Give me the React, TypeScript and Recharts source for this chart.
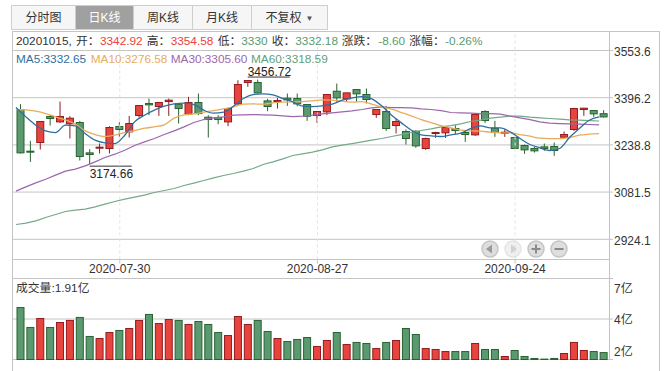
import React from 'react';
import { ComposedChart, Bar, Line, XAxis, YAxis, CartesianGrid, ReferenceLine } from 'recharts';

const dates = [
  '2020-07-16', '2020-07-17', '2020-07-20', '2020-07-21', '2020-07-22', '2020-07-23', '2020-07-24', '2020-07-27', '2020-07-28', '2020-07-29',
  '2020-07-30', '2020-07-31', '2020-08-03', '2020-08-04', '2020-08-05', '2020-08-06', '2020-08-07', '2020-08-10', '2020-08-11', '2020-08-12',
  '2020-08-13', '2020-08-14', '2020-08-17', '2020-08-18', '2020-08-19', '2020-08-20', '2020-08-21', '2020-08-24', '2020-08-25', '2020-08-26',
  '2020-08-27', '2020-08-28', '2020-08-31', '2020-09-01', '2020-09-02', '2020-09-03', '2020-09-04', '2020-09-07', '2020-09-08', '2020-09-09',
  '2020-09-10', '2020-09-11', '2020-09-14', '2020-09-15', '2020-09-16', '2020-09-17', '2020-09-18', '2020-09-21', '2020-09-22', '2020-09-23',
  '2020-09-24', '2020-09-25', '2020-09-28', '2020-09-29', '2020-09-30', '2020-10-09', '2020-10-12', '2020-10-13', '2020-10-14', '2020-10-15',
];

const opens = [
  3356.8, 3217.9, 3246.8, 3333.4, 3315.6, 3309.0, 3313.4, 3212.3, 3229.0, 3226.8,
  3300.1, 3282.3, 3336.8, 3376.8, 3366.8, 3383.4, 3374.5, 3342.3, 3380.1, 3331.2,
  3330.1, 3315.6, 3375.6, 3446.8, 3446.8, 3385.6, 3384.5, 3394.5, 3393.4, 3373.4,
  3336.8, 3349.0, 3417.9, 3392.3, 3423.4, 3406.8, 3340.1, 3350.1, 3303.4, 3283.4,
  3284.5, 3226.8, 3277.9, 3279.0, 3293.4, 3280.1, 3272.3, 3350.1, 3294.5, 3279.0,
  3263.4, 3236.8, 3226.8, 3232.3, 3233.4, 3264.5, 3290.1, 3356.8, 3353.4, 3342.92,
];
const closes = [
  3212.3, 3215.6, 3316.8, 3326.8, 3333.4, 3327.9, 3200.1, 3206.8, 3231.2, 3296.8,
  3290.1, 3310.1, 3370.1, 3372.3, 3380.1, 3387.9, 3360.1, 3380.1, 3343.4, 3323.4,
  3323.4, 3360.1, 3440.1, 3453.4, 3412.3, 3366.8, 3386.8, 3389.0, 3375.6, 3334.5,
  3350.1, 3406.8, 3395.6, 3412.3, 3409.0, 3390.1, 3356.8, 3293.4, 3316.8, 3260.1,
  3235.6, 3260.1, 3280.1, 3296.8, 3286.8, 3273.4, 3340.1, 3320.1, 3280.1, 3281.2,
  3226.8, 3222.3, 3219.0, 3226.8, 3220.1, 3273.4, 3360.1, 3361.2, 3342.3, 3332.18,
];
const highs = [
  3374.5, 3252.3, 3317.9, 3337.9, 3383.4, 3334.5, 3319.0, 3224.5, 3243.4, 3301.2,
  3314.5, 3335.6, 3370.1, 3393.4, 3382.3, 3393.4, 3376.8, 3399.0, 3410.1, 3337.9,
  3337.9, 3363.4, 3454.5, 3454.5, 3456.72, 3392.3, 3395.6, 3410.1, 3410.1, 3375.6,
  3352.3, 3406.8, 3443.4, 3412.3, 3423.4, 3426.8, 3357.9, 3367.9, 3326.8, 3290.1,
  3287.9, 3263.4, 3282.3, 3301.2, 3304.5, 3285.6, 3341.2, 3354.5, 3319.0, 3291.2,
  3265.7, 3240.1, 3232.3, 3243.4, 3246.8, 3283.4, 3362.3, 3362.3, 3353.4, 3354.58,
];
const lows = [
  3210.1, 3182.3, 3223.4, 3303.4, 3312.3, 3260.1, 3186.8, 3174.66, 3210.1, 3210.1,
  3265.7, 3263.4, 3330.1, 3337.9, 3335.6, 3335.6, 3310.1, 3337.9, 3337.9, 3263.4,
  3307.9, 3301.2, 3370.1, 3432.3, 3410.1, 3351.2, 3360.1, 3369.0, 3367.9, 3319.0,
  3312.3, 3337.9, 3382.3, 3382.3, 3382.3, 3376.8, 3329.0, 3285.6, 3276.8, 3240.1,
  3229.0, 3222.3, 3262.3, 3262.3, 3274.5, 3249.0, 3269.0, 3312.3, 3265.7, 3265.7,
  3225.7, 3209.0, 3213.4, 3219.0, 3202.3, 3260.1, 3285.6, 3335.6, 3332.3, 3330,
];

const ma5 = [
  3363.4, 3332.3, 3304.5, 3285.6, 3280.1, 3304.5, 3302.3, 3276.8, 3254.5, 3245.6,
  3243.4, 3271.2, 3315.6, 3337.9, 3354.5, 3367.9, 3375.6, 3377.9, 3373.4, 3354.5,
  3344.5, 3347.9, 3367.9, 3393.4, 3406.8, 3409.0, 3405.6, 3393.4, 3382.3, 3367.9,
  3366.8, 3369.0, 3374.5, 3387.9, 3395.6, 3400.1, 3392.3, 3369.0, 3337.9, 3312.3,
  3287.9, 3272.3, 3269.0, 3266.8, 3272.3, 3277.9, 3293.4, 3302.3, 3295.6, 3295.6,
  3282.3, 3260.1, 3240.1, 3229.0, 3220.1, 3226.8, 3263.4, 3293.4, 3321.2, 3332.65,
];
const ma10 = [
  3356.8, 3355.7, 3351.2, 3343.4, 3332.3, 3322.3, 3307.9, 3285.6, 3273.4, 3266.8,
  3271.2, 3280.1, 3286.8, 3294.5, 3299.0, 3305.7, 3327.9, 3339.0, 3342.3, 3347.9,
  3353.4, 3359.0, 3365.7, 3374.5, 3375.6, 3374.5, 3379.0, 3381.2, 3382.3, 3383.4,
  3385.6, 3389.0, 3387.9, 3384.5, 3381.2, 3383.4, 3374.5, 3364.5, 3357.9, 3346.8,
  3335.6, 3323.4, 3313.4, 3303.4, 3295.6, 3287.9, 3285.6, 3284.5, 3281.2, 3279.0,
  3279.0, 3273.4, 3267.9, 3261.2, 3260.1, 3260.1, 3263.4, 3271.2, 3274.5, 3276.58,
];
const ma30 = [
  3084.6, 3099.0, 3112.3, 3124.5, 3137.9, 3151.2, 3157.9, 3169.0, 3182.3, 3196.8,
  3207.9, 3221.2, 3236.8, 3249.0, 3260.1, 3273.4, 3285.6, 3299.0, 3313.4, 3323.4,
  3329.0, 3332.3, 3337.9, 3339.0, 3340.1, 3339.0, 3337.9, 3335.6, 3333.4, 3334.5,
  3337.9, 3342.3, 3345.6, 3349.0, 3352.3, 3356.8, 3362.3, 3365.7, 3363.4, 3363.4,
  3362.3, 3359.0, 3356.8, 3353.4, 3346.8, 3345.7, 3344.5, 3343.4, 3343.4, 3341.2,
  3334.5, 3329.0, 3323.4, 3315.6, 3311.2, 3310.1, 3309.0, 3307.9, 3306.8, 3305.6,
];
const ma60 = [
  2973.5, 2977.9, 2985.7, 2996.8, 3006.8, 3016.8, 3021.2, 3024.5, 3032.3, 3041.2,
  3050.1, 3057.9, 3064.5, 3071.2, 3080.1, 3086.8, 3093.4, 3103.4, 3111.2, 3120.1,
  3129.0, 3136.8, 3143.4, 3151.2, 3160.1, 3173.4, 3182.3, 3192.3, 3203.4, 3209.0,
  3214.5, 3222.3, 3232.3, 3237.9, 3243.4, 3249.0, 3254.5, 3260.1, 3266.8, 3273.4,
  3280.1, 3286.8, 3292.3, 3299.0, 3303.4, 3309.0, 3316.8, 3321.2, 3327.9, 3331.2,
  3334.5, 3334.5, 3331.2, 3329.0, 3326.8, 3324.5, 3322.3, 3321.2, 3320.1, 3318.59,
];

// 亿
const volumes = [
  5.37, 3.84, 4.53, 3.84, 4.22, 4.38, 4.61, 3.15, 2.99, 3.45,
  3.61, 3.76, 4.38, 4.84, 4.14, 4.45, 4.38, 4.07, 4.30, 4.07,
  3.45, 3.22, 4.68, 4.07, 4.38, 3.53, 2.99, 2.76, 2.92, 3.07,
  2.38, 2.84, 3.45, 2.53, 2.69, 2.61, 2.22, 2.69, 2.84, 3.76,
  3.30, 2.22, 2.15, 1.99, 1.99, 1.99, 2.61, 2.15, 2.15, 1.61,
  2.07, 1.61, 1.46, 1.41, 1.46, 1.84, 2.69, 2.07, 1.99, 1.91,
];

const dateTicks = ['2020-07-30', '2020-08-27', '2020-09-24'];
const priceTicks = [2924.1, 3081.5, 3238.8, 3396.2, 3553.6];
const priceDomain = [2856.75, 3616.95];
const volumeTicks = [1.38, 4.49, 7.6];
const volumeTickLabels = ['2亿', '4亿', '7亿'];
const tabs = ['分时图', '日K线', '周K线', '月K线', '不复权'];

const RED = '#E6443C';
const RED_DARK = '#931A1E';
const GREEN = '#5B9A70';
const GREEN_DARK = '#27632F';
const GRID = '#C4C4C4';
const FONT = '"Liberation Sans","Noto Sans CJK SC",sans-serif';

const chartData = dates.map((date, i) => ({
  date,
  open: opens[i],
  close: closes[i],
  high: highs[i],
  low: lows[i],
  ma5: ma5[i],
  ma10: ma10[i],
  ma30: ma30[i],
  ma60: ma60[i],
  volume: volumes[i],
}));

const maxHigh = Math.max(...highs);
const minLow = Math.min(...lows);

const Candle = (props: any) => {
  const { x, y, width, height, payload } = props;
  const top = Math.min(y, y + height);
  const k = Math.abs(height) / (payload.high - payload.low);
  const up = payload.close >= payload.open;
  const bodyTop = top + (payload.high - Math.max(payload.open, payload.close)) * k;
  const bodyH = Math.max(Math.abs(payload.open - payload.close) * k, 1);
  const mid = x + width / 2;
  const bottom = top + Math.abs(height);
  return (
    <g>
      <line x1={mid} x2={mid} y1={top} y2={bottom} stroke={up ? RED_DARK : GREEN_DARK} />
      <rect x={x} y={bodyTop} width={width} height={bodyH} fill={up ? RED : GREEN} stroke={up ? RED_DARK : GREEN_DARK} />
      {payload.high === maxHigh && (
        <g>
          <text x={mid - 10} y={top - 4} fontSize={12} fill="#222" fontFamily={FONT}>{payload.high}</text>
          <line x1={mid - 10} x2={mid + 32} y1={top - 2.5} y2={top - 2.5} stroke="#333" />
        </g>
      )}
      {payload.low === minLow && (
        <g>
          <text x={mid} y={bottom + 14} fontSize={12} fill="#222" fontFamily={FONT}>{payload.low}</text>
          <line x1={mid} x2={mid + 42} y1={bottom + 2} y2={bottom + 2} stroke="#333" />
        </g>
      )}
    </g>
  );
};

const VolumeBar = (props: any) => {
  const { x, y, width, height, payload } = props;
  const up = payload.close >= payload.open;
  return <rect x={x} y={y} width={width} height={height} fill={up ? RED : GREEN} stroke={up ? RED_DARK : GREEN_DARK} />;
};

const VolumeTick = (props: any) => {
  const { x, y, index } = props;
  const dy = [-4, 5, 14][index];
  return <text x={x} y={y + dy} fontSize={12} fill="#333" fontFamily={FONT}>{volumeTickLabels[index]}</text>;
};

const NavButton = ({ cx, faded, children }: any) => (
  <g opacity={faded ? 0.45 : 1}>
    <circle cx={cx} cy={249} r={8} fill="#DEDEDE" stroke="#C4C4C4" strokeWidth={1.5} />
    {children}
  </g>
);

const span = (left: number, top: number, text: string, color = '#333') => (
  <span key={text + left} style={{ position: 'absolute', left, top, color, whiteSpace: 'nowrap', fontSize: 11.8, lineHeight: '14px' }}>
    {text}
  </span>
);

export default function App() {
  return (
    <div style={{ position: 'absolute', left: 0, top: 0, width: 669, height: 371, background: '#fff', overflow: 'hidden', fontFamily: FONT }}>
      {/* tabs */}
      <div style={{ position: 'absolute', left: 11, top: 5, height: 25, display: 'flex', width: 317 }}>
        {tabs.map((t, i) => (
          <div
            key={t}
            style={{
              width: [65, 58, 59, 59, 76][i],
              boxSizing: 'border-box',
              height: 25,
              lineHeight: '24px',
              textAlign: 'center',
              fontSize: 12,
              color: i === 1 ? '#fff' : '#333',
              background: i === 1 ? '#A0A0A0' : '#F6F6F6',
              border: '1px solid #CFCFCF',
              borderLeft: i === 0 ? '1px solid #CFCFCF' : 'none',
            }}
          >
            {t}
            {i === 4 && <span style={{ fontSize: 8, color: '#555', marginLeft: 4, verticalAlign: 1 }}>▼</span>}
          </div>
        ))}
      </div>

      {/* frame */}
      <div style={{ position: 'absolute', left: 12, top: 31, width: 648, height: 340, borderTop: `1px solid ${GRID}`, borderLeft: `1px solid ${GRID}`, borderRight: `1px solid ${GRID}`, boxSizing: 'border-box' }} />
      <div style={{ position: 'absolute', left: 609, top: 31, width: 1, height: 328, background: GRID }} />

      {/* price chart */}
      <div style={{ position: 'absolute', left: 0, top: 0 }}>
        <ComposedChart width={669} height={278.5} data={chartData} margin={{ top: 31.5, right: 9, left: 12.5, bottom: 0 }} barSize={7}>
          <CartesianGrid vertical={false} stroke={GRID} />
          <XAxis
            xAxisId="band"
            dataKey="date"
            scale="band"
            ticks={dateTicks}
            interval={0}
            padding={{ left: 3.5, right: 0 }}
            height={19}
            stroke={GRID}
            tickSize={4}
            tickMargin={1}
            tick={{ fontSize: 12, fill: '#333', fontFamily: FONT }}
          />
          <XAxis xAxisId="line" dataKey="date" scale="point" padding={{ left: 3.5, right: 9.88 }} hide />
          <YAxis
            orientation="right"
            width={51}
            domain={priceDomain}
            ticks={priceTicks}
            interval={0}
            axisLine={false}
            stroke={GRID}
            tickSize={4}
            tickMargin={1}
            tick={{ fontSize: 12, fill: '#333', fontFamily: FONT, dy: 1 }}
          />
          {dateTicks.map((d) => (
            <ReferenceLine key={d} x={d} xAxisId="band" stroke="#E2E2E2" strokeDasharray="3 3" />
          ))}
          <Bar xAxisId="band" dataKey={(d: any) => [d.low, d.high]} shape={<Candle />} isAnimationActive={false} />
          <Line xAxisId="line" dataKey="ma60" stroke="#72AA88" strokeWidth={1.2} dot={false} isAnimationActive={false} />
          <Line xAxisId="line" dataKey="ma30" stroke="#9C66AC" strokeWidth={1.2} dot={false} isAnimationActive={false} />
          <Line xAxisId="line" dataKey="ma10" type="monotone" stroke="#E8AC5C" strokeWidth={1.3} dot={false} isAnimationActive={false} />
          <Line xAxisId="line" dataKey="ma5" type="monotone" stroke="#2F6F9F" strokeWidth={1.3} dot={false} isAnimationActive={false} />
        </ComposedChart>
      </div>

      {/* volume chart */}
      <div style={{ position: 'absolute', left: 0, top: 278 }}>
        <ComposedChart width={669} height={82} data={chartData} margin={{ top: 0.5, right: 9, left: 12.5, bottom: 0.5 }} barSize={7}>
          <CartesianGrid vertical={false} stroke={GRID} />
          <XAxis dataKey="date" scale="band" padding={{ left: 3.5, right: 0 }} hide />
          <YAxis
            orientation="right"
            width={51}
            domain={[volumeTicks[0], volumeTicks[2]]}
            ticks={volumeTicks}
            interval={0}
            axisLine={false}
            stroke={GRID}
            tickSize={4}
            tickMargin={1}
            tick={<VolumeTick />}
          />
          <Bar dataKey="volume" shape={<VolumeBar />} isAnimationActive={false} />
        </ComposedChart>
      </div>

      {/* header rows */}
      <div style={{ position: 'absolute', left: 0, top: 0 }}>
        {span(16, 34, '20201015,')}
        {span(76, 34, '开：')}
        {span(100, 34, '3342.92', RED)}
        {span(146.7, 34, '高：')}
        {span(170.7, 34, '3354.58', RED)}
        {span(217.7, 34, '低：')}
        {span(241.3, 34, '3330', GREEN)}
        {span(271.7, 34, '收：')}
        {span(295.3, 34, '3332.18', GREEN)}
        {span(341.7, 34, '涨跌：')}
        {span(378.3, 34, '-8.60', GREEN)}
        {span(409.3, 34, '涨幅：')}
        {span(445, 34, '-0.26%', GREEN)}
        {span(16, 52, 'MA5:3332.65', '#2F6F9F')}
        {span(90.7, 52, 'MA10:3276.58', '#E8AC5C')}
        {span(170.7, 52, 'MA30:3305.60', '#9C66AC')}
        {span(251, 52, 'MA60:3318.59', '#5FA07E')}
        {span(16, 281, '成交量:1.91亿')}
      </div>

      {/* zoom / pan buttons */}
      <svg width={669} height={371} style={{ position: 'absolute', left: 0, top: 0, pointerEvents: 'none' }}>
        <NavButton cx={490}>
          <path d="M486 249 L492 244.5 L492 253.5 Z" fill="#9A9A9A" />
        </NavButton>
        <NavButton cx={513} faded>
          <path d="M517 249 L511 244.5 L511 253.5 Z" fill="#9A9A9A" />
        </NavButton>
        <NavButton cx={536}>
          <path d="M531.5 249 H540.5 M536 244.5 V253.5" stroke="#8A8A8A" strokeWidth={2} />
        </NavButton>
        <NavButton cx={559}>
          <path d="M554.5 249 H563.5" stroke="#8A8A8A" strokeWidth={2} />
        </NavButton>
      </svg>
    </div>
  );
}
